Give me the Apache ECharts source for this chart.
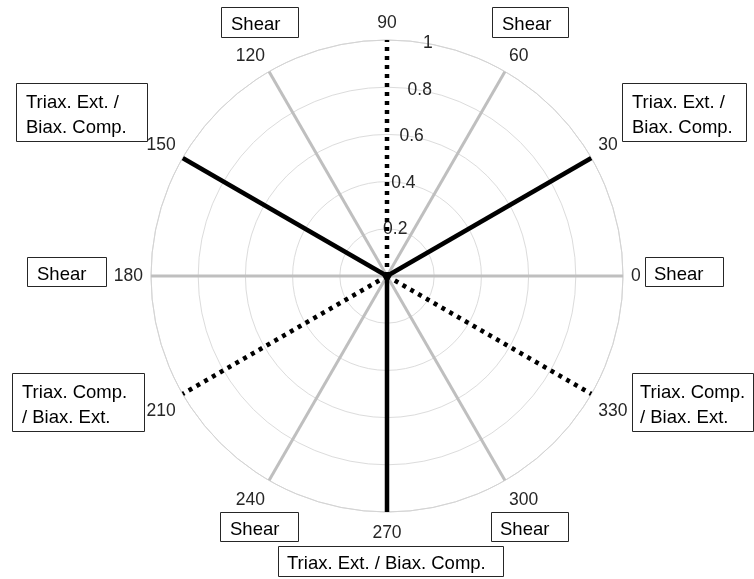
<!DOCTYPE html>
<html>
<head>
<meta charset="utf-8">
<script src="https://cdn.jsdelivr.net/npm/echarts@6/dist/echarts.min.js"></script>
<style>
  html, body { margin: 0; padding: 0; background: #ffffff; }
  #chart { width: 754px; height: 579px; }
</style>
</head>
<body>
<div id="chart"></div>
<script>
// Stress-state directions on the deviatoric plane (Lode angle, degrees)
const radialTicks = [0, 0.2, 0.4, 0.6, 0.8, 1];
const angleTicks = [0, 30, 60, 90, 120, 150, 180, 210, 240, 270, 300, 330];
const shearAngles = [0, 60, 120, 180, 240, 300];
const extensionAngles = [30, 150, 270];
const compressionAngles = [90, 210, 330];
const rayLength = 1;

// Region names and their boxes (pixel layout of the annotation boxes)
const boxTexts = [
  'Shear', 'Shear', 'Triax. Ext. /\nBiax. Comp.', 'Triax. Ext. /\nBiax. Comp.',
  'Shear', 'Shear', 'Triax. Comp.\n/ Biax. Ext.', 'Triax. Comp.\n/ Biax. Ext.',
  'Shear', 'Shear', 'Triax. Ext. / Biax. Comp.'
];
const boxLayout = [
  { x: 221, y: 7, w: 77, h: 30, pad: 10 },
  { x: 492, y: 7, w: 76, h: 30, pad: 10 },
  { x: 622, y: 83, w: 124, h: 58, pad: 10 },
  { x: 16, y: 83, w: 131, h: 58, pad: 10 },
  { x: 27, y: 257, w: 79, h: 29, pad: 10 },
  { x: 645, y: 257, w: 78, h: 29, pad: 9 },
  { x: 12, y: 373, w: 132, h: 58, pad: 10 },
  { x: 632, y: 373, w: 121, h: 58, pad: 8 },
  { x: 220, y: 512, w: 78, h: 29, pad: 10 },
  { x: 491, y: 512, w: 77, h: 29, pad: 9 },
  { x: 278, y: 546, w: 225, h: 30, pad: 9 }
];

const FONT = '"Liberation Sans", Arial, Helvetica, sans-serif';
const CENTER = [387, 276];
const RADIUS = 236;

function rays(angles) {
  return angles.map(a => [[0, a], [rayLength, a]]);
}

function raySeries(angles, style) {
  return rays(angles).map(d => ({
    type: 'line',
    coordinateSystem: 'polar',
    polarIndex: 0,
    data: d,
    symbol: 'none',
    silent: true,
    animation: false,
    lineStyle: style
  }));
}

const chart = echarts.init(document.getElementById('chart'), null, { renderer: 'canvas' });

const option = {
  backgroundColor: '#ffffff',
  animation: false,
  polar: [
    { center: CENTER, radius: RADIUS },
    { center: CENTER, radius: RADIUS }
  ],
  angleAxis: [
    {
      polarIndex: 0,
      type: 'value',
      min: angleTicks[0],
      max: 360,
      interval: 30,
      startAngle: 0,
      clockwise: false,
      axisLine: { show: true, lineStyle: { color: '#d4d4d4', width: 1 } },
      axisTick: { show: false },
      splitLine: { show: false },
      axisLabel: {
        show: true,
        margin: 8,
        color: '#262626',
        fontSize: 17.5,
        fontFamily: FONT,
        padding: [4, 0, 0, 0],
        formatter: v => String(v)
      }
    },
    {
      polarIndex: 1,
      type: 'value',
      min: 0,
      max: 360,
      startAngle: 80,
      clockwise: false,
      axisLine: { show: false },
      axisTick: { show: false },
      splitLine: { show: false },
      axisLabel: { show: false }
    }
  ],
  radiusAxis: [
    {
      polarIndex: 0,
      type: 'value',
      min: radialTicks[0],
      max: radialTicks[radialTicks.length - 1],
      interval: 0.2,
      axisLine: { show: false },
      axisTick: { show: false },
      axisLabel: { show: false },
      splitLine: { show: true, lineStyle: { color: '#dcdcdc', width: 1 } }
    },
    {
      polarIndex: 1,
      type: 'value',
      min: radialTicks[0],
      max: radialTicks[radialTicks.length - 1],
      interval: 0.2,
      axisLine: { show: false },
      axisTick: { show: false },
      splitLine: { show: false },
      axisLabel: {
        show: true,
        margin: 0,
        rotate: 0,
        align: 'center',
        verticalAlign: 'middle',
        color: '#262626',
        fontSize: 17.5,
        fontFamily: FONT,
        showMinLabel: false,
        formatter: v => (v === 0 ? '' : String(+v.toFixed(1)))
      }
    }
  ],
  series: [
    ...raySeries(shearAngles, { color: '#bfbfbf', width: 3, cap: 'butt' }),
    ...raySeries(extensionAngles, { color: '#000000', width: 4.5, cap: 'butt' }),
    ...raySeries(compressionAngles, { color: '#000000', width: 4.5, type: [4, 5], cap: 'butt' })
  ],
  graphic: boxTexts.map((t, i) => {
    const b = boxLayout[i];
    return {
      type: 'group',
      x: b.x,
      y: b.y,
      z: 100,
      children: [
        {
          type: 'rect',
          shape: { x: 0.5, y: 0.5, width: b.w, height: b.h },
          style: { fill: '#ffffff', stroke: '#262626', lineWidth: 1 }
        },
        {
          type: 'text',
          x: b.pad,
          y: b.h / 2 + 3,
          style: {
            text: t,
            fill: '#000000',
            fontSize: 18.5,
            fontFamily: FONT,
            lineHeight: 25,
            align: 'left',
            verticalAlign: 'middle'
          }
        }
      ]
    };
  })
};

chart.setOption(option);
</script>
</body>
</html>
